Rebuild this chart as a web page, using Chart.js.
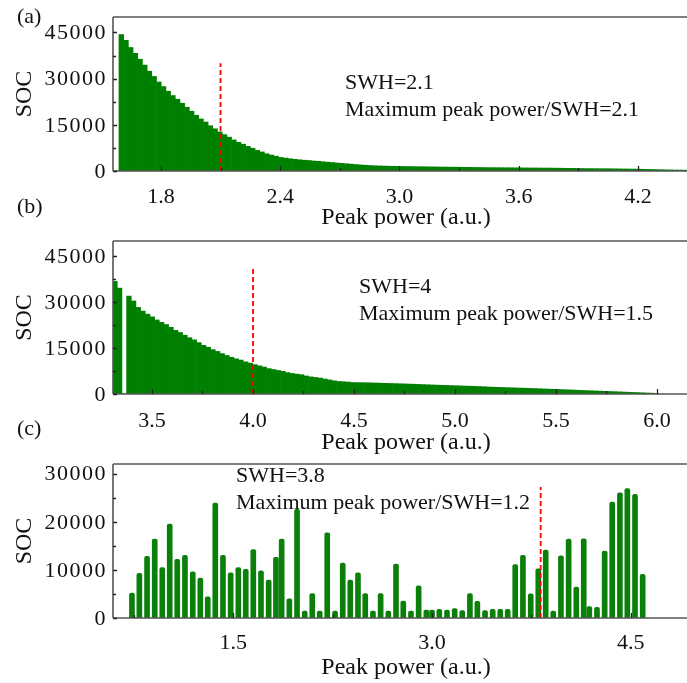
<!DOCTYPE html>
<html>
<head>
<meta charset="utf-8">
<script src="https://cdn.jsdelivr.net/npm/chart.js@4.4.1/dist/chart.umd.min.js"></script>
<style>
  html, body { margin: 0; padding: 0; background: #fff; overflow: hidden; }
  #wrap { position: relative; width: 687px; height: 683px; overflow: hidden; }
  #wrap canvas { position: absolute; left: 0; }
  .lab { position: absolute; left: 17px; font-family: "Liberation Serif", "Times New Roman", serif;
         font-size: 22px; line-height: 22px; color: #111; }
</style>
</head>
<body>
<div id="wrap">
  <canvas id="chartA" width="700" height="228" style="top:0px"></canvas>
  <canvas id="chartB" width="700" height="228" style="top:228px"></canvas>
  <canvas id="chartC" width="700" height="227" style="top:456px"></canvas>
  <div class="lab" style="top:5px">(a)</div>
  <div class="lab" style="top:195px">(b)</div>
  <div class="lab" style="top:417px">(c)</div>
</div>
<script>
// panel (a) histogram, SWH = 2.1
const aBinStart = 1.589;
const aBinWidth = 0.0236;
const aCounts = [44300, 42400, 40100, 38200, 36300, 34400, 32400, 30700, 28900, 27400,
  25900, 24500, 23300, 22000, 20700, 19400, 18100, 16900, 15900, 14700,
  13700, 12700, 11800, 11000, 10100, 9300, 8700, 8000, 7400, 6700,
  6200, 5600, 5200, 4800, 4400, 4200, 4000, 3800, 3650, 3500,
  3400, 3250, 3150, 3000, 2880, 2750, 2600, 2480, 2350, 2230,
  2100, 1980, 1880, 1780, 1700, 1640, 1600, 1560, 1530, 1500,
  1470, 1450, 1430, 1400, 1380, 1360, 1340, 1320, 1300, 1280,
  1260, 1240, 1220, 1200, 1180, 1160, 1140, 1120, 1100, 1090,
  1080, 1070, 1060, 1050, 1040, 1020, 1000, 990, 980, 970,
  960, 950, 940, 920, 900, 880, 860, 840, 800, 780,
  770, 760, 750, 740, 730, 710, 680, 660, 640, 620,
  600, 560, 530, 500, 470, 420, 380, 350, 320, 300, 280];

// panel (b) histogram, SWH = 4
const bBinStart = 3.305;
const bBinWidth = 0.0231;
const bCounts = [36800, 34600, 0, 32000, 30400, 28300, 27100, 26100, 25200, 24200,
  23400, 22700, 21800, 20800, 20100, 19200, 18400, 17700, 16800, 15900,
  15300, 14500, 13900, 13200, 12600, 12000, 11500, 11100, 10500, 10100,
  9600, 9200, 8800, 8300, 8000, 7700, 7400, 7000, 6700, 6500,
  6300, 5900, 5600, 5400, 5200, 4900, 4600, 4300, 4100, 4000,
  3900, 3750, 3700, 3700, 3680, 3640, 3600, 3540, 3480, 3440,
  3400, 3350, 3300, 3250, 3200, 3140, 3080, 3020, 2960, 2900,
  2850, 2800, 2750, 2700, 2650, 2600, 2550, 2500, 2440, 2380,
  2300, 2240, 2180, 2130, 2080, 2030, 1980, 1930, 1880, 1830,
  1780, 1720, 1660, 1600, 1540, 1480, 1420, 1360, 1300, 1240,
  1180, 1120, 1060, 1000, 940, 880, 820, 760, 700, 640,
  580, 520, 460, 400, 340, 280, 220];

// panel (c) discrete peaks, SWH = 3.8
const cPeak = [0.735, 0.791, 0.849, 0.907, 0.964, 1.020, 1.077, 1.135, 1.194, 1.251,
  1.307, 1.364, 1.422, 1.480, 1.538, 1.594, 1.651, 1.709, 1.767, 1.822,
  1.865, 1.923, 1.981, 2.039, 2.096, 2.152, 2.209, 2.268, 2.326, 2.383,
  2.441, 2.496, 2.554, 2.612, 2.670, 2.728, 2.783, 2.841, 2.899, 2.957,
  3.000, 3.055, 3.113, 3.171, 3.228, 3.286, 3.342, 3.400, 3.458, 3.515,
  3.571, 3.628, 3.686, 3.745, 3.802, 3.858, 3.915, 3.973, 4.031, 4.089,
  4.145, 4.187, 4.245, 4.303, 4.360, 4.418, 4.474, 4.532, 4.590];
const cCounts = [5200, 9300, 12800, 16400, 10500, 19500, 12200, 13000, 9600, 8300,
  4400, 23900, 13000, 9400, 10500, 10100, 14200, 9800, 7900, 12600,
  16400, 4000, 22600, 1460, 5100, 1460, 17700, 1460, 11400, 7900,
  9400, 5100, 1460, 5100, 1460, 11200, 3500, 1460, 6700, 1670,
  1670, 1800, 1670, 1940, 1530, 5100, 3470, 1530, 1800, 1800,
  1800, 11100, 13000, 5000, 10200, 14100, 1460, 12900, 16400, 6450,
  16450, 2360, 2220, 13900, 24100, 26000, 26900, 25700, 9100];

// y tick positions (labels shown on every other one)
const yTicksAB = [0, 7500, 15000, 22500, 30000, 37500, 45000];
const yTicksC = [0, 5000, 10000, 15000, 20000, 25000, 30000];

// red dashed marker (x position, top value) and notes
const markX = [2.1, 4.0, 3.82];
const markTop = [35000, 41000, 27200];
const swhLines = [
  ['SWH=2.1', 'Maximum peak power/SWH=2.1'],
  ['SWH=4', 'Maximum peak power/SWH=1.5'],
  ['SWH=3.8', 'Maximum peak power/SWH=1.2']
];

const serif = '"Liberation Serif", "Times New Roman", serif';
const ink = '#111';

function histData(start, width, counts) {
  return counts.map((v, i) => ({ x: start + width * (i + 0.5), y: v }));
}

function isMajor(v, step) {
  const r = v / step;
  return Math.abs(r - Math.round(r)) < 1e-6;
}

// spines, inward tick marks and y tick labels
function frame(yMajor) {
  return {
    id: 'frame',
    afterDatasetsDraw(chart) {
      const { ctx, chartArea: a, scales } = chart;
      const x = scales.x, y = scales.y;
      ctx.save();
      ctx.strokeStyle = '#555';
      ctx.lineWidth = 1.6;
      ctx.beginPath();
      ctx.moveTo(a.left, a.top); ctx.lineTo(a.right, a.top);
      ctx.moveTo(a.left, a.top); ctx.lineTo(a.left, a.bottom);
      ctx.moveTo(a.left, a.bottom); ctx.lineTo(a.right + 5, a.bottom);
      ctx.stroke();
      ctx.strokeStyle = '#222';
      ctx.lineWidth = 1.3;
      ctx.beginPath();
      x.ticks.forEach(t => {
        const px = Math.round(x.getPixelForValue(t.value)) + 0.5;
        const len = t.label ? 5 : 3;
        ctx.moveTo(px, a.bottom); ctx.lineTo(px, a.bottom - len);
      });
      y.ticks.forEach(t => {
        const py = Math.round(y.getPixelForValue(t.value)) + 0.5;
        const len = isMajor(t.value, yMajor) ? 4 : 3;
        ctx.moveTo(a.left, py); ctx.lineTo(a.left + len, py);
      });
      ctx.stroke();
      ctx.restore();
    },
    afterDraw(chart) {
      const { ctx, chartArea: a, scales } = chart;
      const y = scales.y;
      ctx.save();
      ctx.font = '22px ' + serif;
      ctx.fillStyle = ink;
      ctx.textAlign = 'right';
      ctx.textBaseline = 'middle';
      ctx.letterSpacing = '1.5px';
      y.ticks.forEach(t => {
        if (!isMajor(t.value, yMajor)) return;
        ctx.fillText(String(t.value), a.left - 6, y.getPixelForValue(t.value) + 1);
      });
      ctx.restore();
    }
  };
}

function notes(lines, px, py, gap) {
  return {
    id: 'notes',
    afterDraw(chart) {
      const ctx = chart.ctx;
      ctx.save();
      ctx.font = '22px ' + serif;
      ctx.fillStyle = ink;
      ctx.textBaseline = 'alphabetic';
      lines.forEach((s, i) => ctx.fillText(s, px, py + i * gap));
      ctx.restore();
    }
  };
}

function panel(id, o) {
  return new Chart(document.getElementById(id), {
    data: {
      datasets: [
        {
          type: 'line',
          data: [{ x: o.mark, y: 0 }, { x: o.mark, y: o.markTop }],
          borderColor: '#ff0000',
          borderWidth: 1.8,
          borderDash: [5, 3],
          pointRadius: 0,
          order: 0
        },
        Object.assign({
          type: 'bar',
          data: o.bars,
          backgroundColor: '#008000',
          borderWidth: 0,
          order: 1
        }, o.barStyle)
      ]
    },
    options: {
      responsive: false,
      animation: false,
      devicePixelRatio: 1,
      layout: { padding: { top: o.top, right: 1, left: 0, bottom: 0 } },
      plugins: { legend: { display: false }, tooltip: { enabled: false } },
      scales: {
        x: {
          type: 'linear',
          offset: false,
          min: o.xMin, max: o.xMax,
          grid: { display: false, offset: false },
          border: { display: false },
          ticks: {
            stepSize: o.xStep,
            includeBounds: false,
            autoSkip: false,
            maxRotation: 0,
            padding: o.xPad,
            color: ink,
            font: { family: serif, size: 22 },
            callback: v => isMajor(v, o.xMajor) ? v.toFixed(1) : ''
          },
          title: {
            display: true,
            text: 'Peak power (a.u.)',
            color: ink,
            font: { family: serif, size: 24, lineHeight: 1 },
            padding: { top: 0, bottom: o.titlePad }
          },
          afterFit: s => {
            s.height = o.xh;
            s.paddingLeft = 0; s.paddingRight = 0; s.paddingTop = 0; s.paddingBottom = 0;
          }
        },
        y: {
          type: 'linear',
          offset: false,
          min: 0, max: o.yMax,
          grid: { display: false },
          border: { display: false },
          ticks: { display: false },
          afterBuildTicks: s => { s.ticks = o.yTicks.map(v => ({ value: v })); },
          title: {
            display: true,
            text: 'SOC',
            color: ink,
            font: { family: serif, size: 24, lineHeight: 1 },
            padding: { top: 13, bottom: 0 }
          },
          afterFit: s => {
            s.width = 113;
            s.paddingLeft = 0; s.paddingRight = 0; s.paddingTop = 0; s.paddingBottom = 0;
          }
        }
      }
    },
    plugins: [frame(o.yMajor), notes(o.lines, o.noteX, o.noteY, 27)]
  });
}

const histStyle = { barPercentage: 1, categoryPercentage: 1 };

panel('chartA', {
  bars: histData(aBinStart, aBinWidth, aCounts), barStyle: histStyle,
  mark: markX[0], markTop: markTop[0],
  top: 17, xh: 57, xPad: 5, titlePad: -2,
  xMin: 1.559, xMax: 4.507, xStep: 0.3, xMajor: 0.6,
  yMax: 50000, yTicks: yTicksAB, yMajor: 15000,
  lines: swhLines[0], noteX: 345, noteY: 89
});

panel('chartB', {
  bars: histData(bBinStart, bBinWidth, bCounts), barStyle: histStyle,
  mark: markX[1], markTop: markTop[1],
  top: 13, xh: 62, xPad: 6, titlePad: 1,
  xMin: 3.307, xMax: 6.208, xStep: 0.25, xMajor: 0.5,
  yMax: 50000, yTicks: yTicksAB, yMajor: 15000,
  lines: swhLines[1], noteX: 359, noteY: 65
});

panel('chartC', {
  bars: cPeak.map((p, i) => ({ x: p, y: cCounts[i] })),
  barStyle: { barThickness: 5, borderRadius: 2, backgroundColor: '#0a7f0a' },
  mark: markX[2], markTop: markTop[2],
  top: 8, xh: 65, xPad: 4, titlePad: 3,
  xMin: 0.592, xMax: 5.015, xStep: 0.75, xMajor: 1.5,
  yMax: 32000, yTicks: yTicksC, yMajor: 10000,
  lines: swhLines[2], noteX: 236, noteY: 26
});
</script>
</body>
</html>
